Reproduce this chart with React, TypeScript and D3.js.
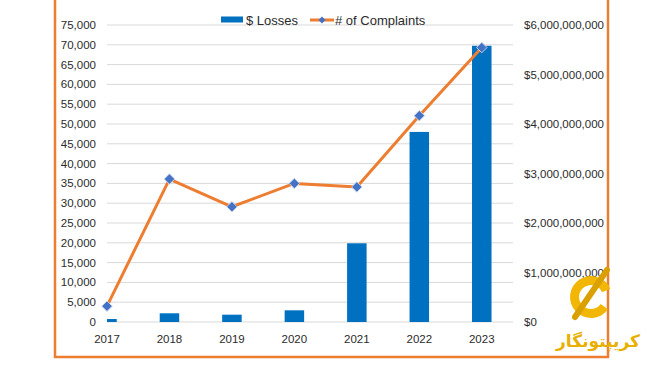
import React from 'react'
import * as d3 from 'd3'

// Data
const years = ['2017', '2018', '2019', '2020', '2021', '2022', '2023']
const complaints = [4000, 36100, 29100, 35000, 34100, 52100, 69300]
const losses = [60000000, 176000000, 148000000, 236000000, 1590000000, 3840000000, 5580000000]
const leftTicks = d3.range(0, 75001, 5000)
const rightTicks = d3.range(0, 6000000001, 1000000000)

const W = 650
const H = 365
const plotLeft = 107
const plotRight = 513
const plotTop = 25
const plotBottom = 322

const font = '"Liberation Sans", Arial, sans-serif'
const textColor = '#2b2b2b'

const App = () => {
    // Scales: band scale starts half a step left of the visible plot (chart looks cropped)
    const step = (plotRight - plotLeft) / 6.5
    const x = d3.scaleBand()
        .domain(years)
        .range([plotRight - step * 7, plotRight])
    const cx = (y) => x(y) + x.bandwidth() / 2

    const yLeft = d3.scaleLinear().domain([0, 75000]).range([plotBottom, plotTop])
    const yRight = d3.scaleLinear().domain([0, 6000000000]).range([plotBottom, plotTop])

    const barW = 19.5
    const fmtLeft = d3.format(',')
    const fmtRight = (v) => '$' + d3.format(',')(v)

    const linePath = d3.line()
        .x((d, i) => cx(years[i]))
        .y((d) => yLeft(d))(complaints)

    const diamond = d3.symbol().type(d3.symbolDiamond2).size(70)()

    return (
        <svg width={W} height={H} style={{ position: 'absolute', left: 0, top: 0 }}>
            <rect x={0} y={0} width={W} height={H} fill="#fff" />
            <defs>
                <clipPath id="plotClip">
                    <rect x={plotLeft} y={0} width={plotRight - plotLeft + 20} height={plotBottom + 2} />
                </clipPath>
            </defs>

            {/* frame */}
            <rect x={55} y={-10} width={553} height={367} fill="none" stroke="#ED7D31" strokeWidth={2.5} />

            {/* grid */}
            {leftTicks.map((t) => (
                <line key={t} x1={plotLeft} x2={plotRight} y1={yLeft(t)} y2={yLeft(t)} stroke="#D9D9D9" strokeWidth={1} />
            ))}

            {/* left axis labels */}
            {leftTicks.map((t) => (
                <text key={'l' + t} x={96} y={yLeft(t)} dy="0.35em" textAnchor="end"
                    fontFamily={font} fontSize={11.5} fill={textColor}>{fmtLeft(t)}</text>
            ))}

            {/* right axis labels */}
            {rightTicks.map((t) => (
                <text key={'r' + t} x={524} y={yRight(t)} dy="0.35em" textAnchor="start"
                    fontFamily={font} fontSize={11.5} fill={textColor}>{fmtRight(t)}</text>
            ))}

            {/* x labels */}
            {years.map((y) => (
                <text key={'x' + y} x={cx(y)} y={339} dy="0.35em" textAnchor="middle"
                    fontFamily={font} fontSize={11.5} fill={textColor}>{y}</text>
            ))}

            {/* bars */}
            <g clipPath="url(#plotClip)">
                {losses.map((v, i) => (
                    <rect key={'b' + i} x={cx(years[i]) - barW / 2} y={yRight(v)} width={barW}
                        height={plotBottom - yRight(v)} fill="#0070C0" />
                ))}
            </g>

            {/* line + markers */}
            <path d={linePath} fill="none" stroke="#ED7D31" strokeWidth={3} strokeLinejoin="round" />
            {complaints.map((v, i) => (
                <path key={'m' + i} d={diamond} transform={`translate(${cx(years[i])},${yLeft(v)})`}
                    fill="#4472C4" stroke="#C9D3EA" strokeWidth={1} />
            ))}

            {/* legend */}
            <rect x={221} y={16.5} width={22} height={6} fill="#0070C0" />
            <text x={246} y={20} dy="0.35em" fontFamily={font} fontSize={13} fill={textColor}>$ Losses</text>
            <line x1={310} x2={334} y1={20} y2={20} stroke="#ED7D31" strokeWidth={3} />
            <path d={d3.symbol().type(d3.symbolDiamond2).size(30)()} transform="translate(322,20)" fill="#4472C4" />
            <text x={335} y={20} dy="0.35em" fontFamily={font} fontSize={13} fill={textColor}># of Complaints</text>

            {/* watermark */}
            <g>
                <path d={d3.arc()({ innerRadius: 12, outerRadius: 21, startAngle: 2.2, endAngle: 7.45 })}
                    transform="translate(591,297)" fill="#F2B705" />
                <line x1={575} y1={317} x2={607} y2={270} stroke="#D9A000" strokeWidth={6} strokeLinecap="round" />
                <text x={598} y={341} dy="0.35em" textAnchor="middle" fontFamily='"DejaVu Sans", sans-serif'
                    fontSize={17} fontWeight="bold" fill="#E8B000">کریپتونگار</text>
            </g>
        </svg>
    )
}

export default App
